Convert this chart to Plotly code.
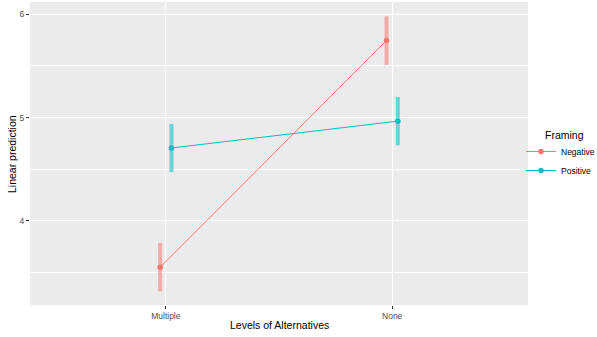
import plotly.graph_objects as go

categories = ["Multiple", "None"]
framing = ["Negative", "Positive"]
pred_negative = [3.55, 5.745]
pred_positive = [4.705, 4.965]
err_negative = [0.235, 0.236]
err_positive = [0.233, 0.234]
colors = {"Negative": "#F8766D", "Positive": "#00BFC4"}
err_colors = {"Negative": "rgba(248,118,109,0.55)", "Positive": "rgba(0,191,196,0.55)"}
dodge = {"Negative": -0.025, "Positive": 0.025}

L, R, T, B = 30, 528, 2, 305
W, H = 597, 337
pw, ph = R - L, B - T

def px(xp):
    return (xp - L) / pw

def py(yp):
    return (B - yp) / ph

fig = go.Figure()
for name, vals, errs in [("Negative", pred_negative, err_negative), ("Positive", pred_positive, err_positive)]:
    xs = [i + 1 + dodge[name] for i in range(len(categories))]
    fig.add_trace(go.Scatter(
        x=xs, y=vals, name=name, mode="lines+markers",
        line=dict(color=colors[name], width=1),
        marker=dict(color=colors[name], size=5.5),
        error_y=dict(type="data", array=errs, visible=True, thickness=4, width=0, color=err_colors[name]),
    ))

fig.update_layout(
    width=W, height=H,
    margin=dict(l=L, r=W - R, t=T, b=H - B, autoexpand=False),
    paper_bgcolor="white", plot_bgcolor="#EBEBEB",
    font=dict(family="Liberation Sans, Arial, sans-serif", color="black"),
    showlegend=True,
    legend=dict(
        font=dict(size=8.5, color="black"),
        x=px(521), xanchor="left", y=py(161), yanchor="middle",
        itemwidth=30, tracegroupgap=0, bgcolor="rgba(0,0,0,0)",
    ),
    xaxis=dict(
        range=[0.4, 2.6], tickvals=[1, 2], ticktext=categories,
        showgrid=True, gridcolor="white", gridwidth=1.1, zeroline=False,
        ticks="outside", ticklen=3, tickcolor="#333333", tickwidth=1,
        tickfont=dict(size=8.5, color="#4D4D4D"), automargin=False,
        showline=False,
    ),
    yaxis=dict(
        range=[3.184, 6.119], tickvals=[4, 5, 6],
        showgrid=True, gridcolor="white", gridwidth=1.1, zeroline=False,
        ticks="outside", ticklen=3, tickcolor="#333333", tickwidth=1,
        tickfont=dict(size=8.5, color="#4D4D4D"), automargin=False,
        minor=dict(tickvals=[3.5, 4.5, 5.5], showgrid=True, gridcolor="white", gridwidth=0.55, ticks=""),
        showline=False,
    ),
    annotations=[
        dict(text="Levels of Alternatives", xref="paper", yref="paper", x=0.5, y=py(325),
             xanchor="center", yanchor="middle", showarrow=False, font=dict(size=10.5, color="black")),
        dict(text="Linear prediction", xref="paper", yref="paper", x=px(12), y=py(154),
             xanchor="center", yanchor="middle", textangle=-90, showarrow=False,
             font=dict(size=10.5, color="black")),
        dict(text="Framing", xref="paper", yref="paper", x=px(543), y=py(135),
             xanchor="left", yanchor="middle", showarrow=False, font=dict(size=10.5, color="black")),
    ],
)

fig.write_html("out.html", config={"displayModeBar": False},
               post_script="document.body.style.margin='0px';")
